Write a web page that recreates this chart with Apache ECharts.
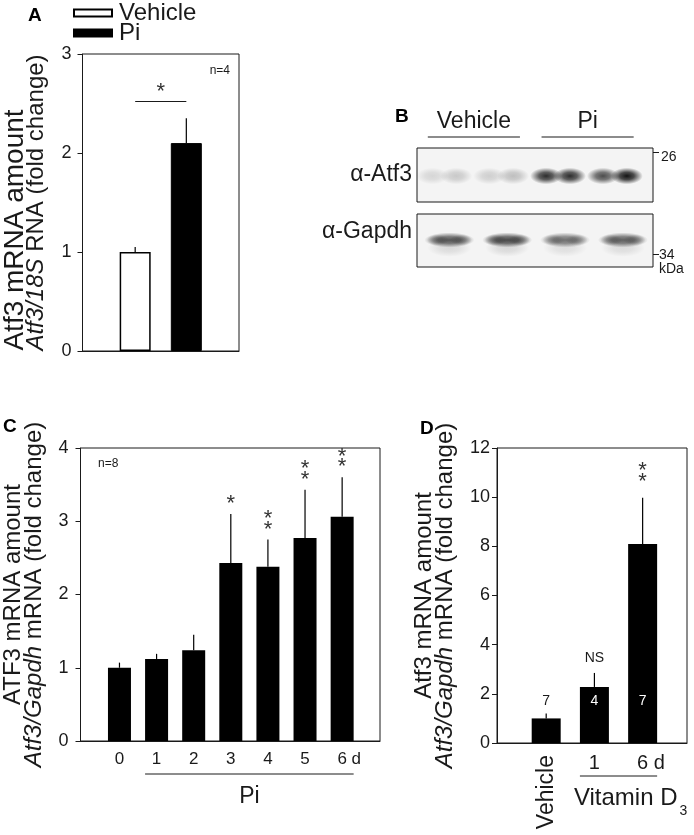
<!DOCTYPE html>
<html><head><meta charset="utf-8">
<script src="https://cdn.jsdelivr.net/npm/echarts@6/dist/echarts.min.js"></script>
<style>html,body{margin:0;padding:0;background:#fff}#c{width:694px;height:835px}</style>
</head><body><div id="c"></div><script>
const F = '"Liberation Sans", Arial, Helvetica, sans-serif';
const INK = '#1a1a1a';

// ---- Panel A data ----
const aGroups = ['Vehicle', 'Pi'];
const aMeans = [1.00, 2.10];
const aUpper = [1.05, 2.35];
const aSigPair = [0, 1];
const aSigLevel = 2.52;
const aSigText = '*';
const aN = 'n=4';

// ---- Panel B data (western blot) ----
const bLanes = [0, 1, 2, 3];
const bLaneGroups = [['Vehicle', 0, 1], ['Pi', 2, 3]];
const bAtf3 = [[0.13, 0.19], [0.16, 0.23], [0.86, 0.86], [0.72, 0.97]];
const bGapdh = [0.80, 0.86, 0.66, 0.74];
const bProbes = ['\u03b1-Atf3', '\u03b1-Gapdh'];
const bMarkers = ['26', '34', 'kDa'];

// ---- Panel C data ----
const cDays = ['0', '1', '2', '3', '4', '5', '6'];
const cMeans = [1.00, 1.12, 1.24, 2.43, 2.38, 2.77, 3.06];
const cUpper = [1.07, 1.19, 1.45, 3.10, 2.75, 3.43, 3.60];
const cSig = ['', '', '', '*', '**', '**', '**'];
const cGroup = ['Pi', 1, 6];
const cN = 'n=8';

// ---- Panel D data ----
const dGroups = ['Vehicle', '1', '6'];
const dMeans = [1.00, 2.28, 8.10];
const dUpper = [1.20, 2.85, 9.98];
const dSig = ['', 'NS', '**'];
const dN = ['7', '4', '7'];
const dGroup = ['Vitamin D', 1, 2];

const N_LABEL_Y = 1.72;

function errSeries(xi, yi, means, upper, sig, gap, step, sigSize) {
  return {
    type: 'custom', xAxisIndex: xi, yAxisIndex: yi, z: 5,
    data: means.map((m, i) => [i, m, upper[i]]),
    renderItem: function (params, api) {
      const p0 = api.coord([api.value(0), api.value(1)]);
      const p1 = api.coord([api.value(0), api.value(2)]);
      const ch = [{ type: 'line', shape: { x1: p0[0], y1: p0[1], x2: p1[0], y2: p1[1] },
        style: { stroke: '#000', lineWidth: 1.2 } }];
      const s = sig[params.dataIndex];
      if (s === 'NS') {
        ch.push({ type: 'text', x: p1[0], y: p1[1] - 15,
          style: { text: 'NS', fill: INK, fontSize: 14, fontFamily: F, align: 'center', verticalAlign: 'middle' } });
      } else if (s) {
        for (let k = 0; k < s.length; k++) {
          ch.push({ type: 'text', x: p1[0], y: p1[1] - gap - k * step + 2,
            style: { text: '*', fill: '#333', fontSize: sigSize, fontFamily: F, align: 'center', verticalAlign: 'middle' } });
        }
      }
      return { type: 'group', children: ch };
    }
  };
}

function bracketSeries(xi, yi, grp, halfBar, rich) {
  return {
    type: 'custom', xAxisIndex: xi, yAxisIndex: yi, z: 5,
    data: [[grp[1], grp[2]]],
    renderItem: function (params, api) {
      const pa = api.coord([api.value(0), 0]);
      const pb = api.coord([api.value(1), 0]);
      const x1 = pa[0] - halfBar, x2 = pb[0] + halfBar, y = pa[1] + 33;
      const ch = [{ type: 'line', shape: { x1: x1, y1: y, x2: x2, y2: y }, style: { stroke: INK, lineWidth: 1 } }];
      if (rich) {
        ch.push({ type: 'text', x: x1 - 6, y: y + 22,
          style: { text: '{a|' + grp[0] + '}{s|3}', align: 'left', verticalAlign: 'middle',
            rich: { a: { fontSize: 24, fontFamily: F, fill: INK, color: INK, lineHeight: 40 },
                    s: { fontSize: 14, fontFamily: F, fill: INK, color: INK, lineHeight: 14, verticalAlign: 'bottom', padding: [0, 0, 0, 2] } } } });
      } else {
        ch.push({ type: 'text', x: (x1 + x2) / 2, y: y + 23,
          style: { text: grp[0], fill: INK, fontSize: 23, fontFamily: F, align: 'center', verticalAlign: 'middle' } });
      }
      return { type: 'group', children: ch };
    }
  };
}

function radial(a) {
  return new echarts.graphic.RadialGradient(0.5, 0.5, 0.5, [
    { offset: 0, color: 'rgba(12,12,12,' + a + ')' },
    { offset: 0.45, color: 'rgba(12,12,12,' + (a * 0.75) + ')' },
    { offset: 1, color: 'rgba(12,12,12,0)' }
  ]);
}

const axisTitleRich = {
  l1: { fontSize: 24, fontFamily: F, color: INK, lineHeight: 21 },
  l1b: { fontSize: 28, fontFamily: F, color: INK, lineHeight: 21, align: 'left' },
  it: { fontSize: 24, fontFamily: F, fontStyle: 'italic', color: INK, lineHeight: 21 },
  itb: { fontSize: 24, fontFamily: F, fontStyle: 'italic', color: INK, lineHeight: 21, align: 'left' },
  l2: { fontSize: 24, fontFamily: F, color: INK, lineHeight: 21 },
  l2b: { fontSize: 24, fontFamily: F, color: INK, lineHeight: 21, align: 'left' }
};

function valueY(grid, max, interval, name, margin, gap) {
  return {
    gridIndex: grid, type: 'value', min: 0, max: max, interval: interval,
    axisLine: { show: true, onZero: false, lineStyle: { color: INK, width: 1 } },
    axisTick: { show: true, inside: false, length: 5, lineStyle: { color: INK } },
    axisLabel: { fontSize: 18, margin: margin, color: INK, fontFamily: F },
    splitLine: { show: false },
    name: name, nameLocation: 'middle', nameRotate: 90, nameGap: gap,
    nameTextStyle: { color: INK, fontFamily: F, rich: axisTitleRich }
  };
}

const hiddenX = (grid, min, max) => ({ gridIndex: grid, type: 'value', min: min, max: max, show: false });

const gridBase = { show: true, borderColor: INK, borderWidth: 1, containLabel: false };

const option = {
  animation: false,
  backgroundColor: '#fff',
  textStyle: { fontFamily: F },
  grid: [
    Object.assign({ left: 80, top: 54, width: 159, height: 297 }, gridBase),
    Object.assign({ left: 417, top: 148, width: 236, height: 54, backgroundColor: '#f4f4f4' }, gridBase),
    Object.assign({ left: 417, top: 214, width: 236, height: 53, backgroundColor: '#f4f4f4' }, gridBase),
    Object.assign({ left: 80, top: 448, width: 300, height: 293 }, gridBase),
    Object.assign({ left: 497, top: 448, width: 190, height: 295 }, gridBase)
  ],
  legend: {
    data: aGroups, orient: 'vertical', left: 73, top: 1, itemGap: -4, padding: 0,
    itemWidth: 38, itemHeight: 7, icon: 'rect',
    textStyle: { fontSize: 24, color: INK, fontFamily: F, lineHeight: 20, padding: [0, 0, 0, 2] }
  },
  xAxis: [
    { gridIndex: 0, type: 'value', min: -1.03, max: 2.03,
      axisLine: { show: true, onZero: false, lineStyle: { color: INK } }, axisTick: { show: false },
      axisLabel: { show: false }, splitLine: { show: false } },
    hiddenX(1, -0.48, 3.67),
    hiddenX(2, -0.56, 3.52),
    { gridIndex: 3, type: 'value', min: -1.05, max: 7.02, position: 'bottom',
      axisLine: { show: true, onZero: false, lineStyle: { color: INK } }, axisTick: { show: false }, splitLine: { show: false },
      axisLabel: { customValues: [0, 1, 2, 3, 4, 5, 6], fontSize: 17, margin: 10, color: INK, fontFamily: F,
        formatter: v => v === cDays.length - 1 ? '{h| d}' + cDays[v] + ' d' : cDays[v],
        rich: { h: { color: 'transparent', fontSize: 17, fontFamily: F } } } },
    { gridIndex: 4, type: 'value', min: -1.02, max: 2.92, position: 'bottom',
      axisLine: { show: true, onZero: false, lineStyle: { color: INK } }, axisTick: { show: false }, splitLine: { show: false },
      axisLabel: { customValues: [1, 2], fontSize: 20, margin: 10, color: INK, fontFamily: F,
        formatter: v => v === dGroups.length - 1 ? '{h| d}' + dGroups[v] + ' d' : dGroups[v],
        rich: { h: { color: 'transparent', fontSize: 20, fontFamily: F } } } }
  ],
  yAxis: [
    valueY(0, 3, 1, '{l1b|Atf3 mRNA amount}\n{itb|Atf3/18S}{l2b| RNA (fold change)}', 11, 36),
    { gridIndex: 1, type: 'value', min: 0, max: 1, axisLine: { show: false, onZero: false }, axisTick: { show: false }, splitLine: { show: false },
      axisLabel: { customValues: [0.5], formatter: () => bProbes[0], fontSize: 23, margin: 5, color: INK, fontFamily: F } },
    { gridIndex: 1, type: 'value', position: 'right', min: 0, max: 1, axisLine: { show: false, onZero: false }, splitLine: { show: false },
      axisTick: { show: true, customValues: [0.93], length: 6, lineStyle: { color: INK } },
      axisLabel: { customValues: [0.83], formatter: () => bMarkers[0], fontSize: 14, margin: 8, color: INK, fontFamily: F } },
    { gridIndex: 2, type: 'value', min: 0, max: 1, axisLine: { show: false, onZero: false }, axisTick: { show: false }, splitLine: { show: false },
      axisLabel: { customValues: [0.66], formatter: () => bProbes[1], fontSize: 23, margin: 5, color: INK, fontFamily: F } },
    { gridIndex: 2, type: 'value', position: 'right', min: 0, max: 1, axisLine: { show: false, onZero: false }, splitLine: { show: false },
      axisTick: { show: true, customValues: [0.245], length: 6, lineStyle: { color: INK } },
      axisLabel: { customValues: [0.094], formatter: () => bMarkers[1] + '\n' + bMarkers[2], fontSize: 14, lineHeight: 14,
        margin: 6, color: INK, fontFamily: F } },
    valueY(3, 4, 1, '{l1|ATF3 mRNA amount}\n{it|Atf3/Gapdh}{l2| mRNA (fold change)}', 12, 36),
    valueY(4, 12, 2, '{l1|Atf3 mRNA amount}\n{it|Atf3/Gapdh}{l2| mRNA (fold change)}', 7, 41)
  ],
  series: [
    // Panel A
    { name: aGroups[0], type: 'bar', xAxisIndex: 0, yAxisIndex: 0, barWidth: 31, barGap: '-100%',
      data: [[0, aMeans[0]]], itemStyle: { color: '#fff', borderColor: '#000', borderWidth: 1.5 } },
    { name: aGroups[1], type: 'bar', xAxisIndex: 0, yAxisIndex: 0, barWidth: 31, barGap: '-100%',
      data: [[1, aMeans[1]]], itemStyle: { color: '#000', borderColor: '#000', borderWidth: 1 } },
    errSeries(0, 0, aMeans, aUpper, ['', ''], 14, 10.5, 22),
    { type: 'custom', xAxisIndex: 0, yAxisIndex: 0, z: 5, data: [[aSigPair[0], aSigPair[1], aSigLevel]],
      renderItem: function (params, api) {
        const p0 = api.coord([api.value(0), api.value(2)]);
        const p1 = api.coord([api.value(1), api.value(2)]);
        return { type: 'group', children: [
          { type: 'line', shape: { x1: p0[0], y1: p0[1], x2: p1[0], y2: p1[1] }, style: { stroke: INK, lineWidth: 1.2 } },
          { type: 'text', x: (p0[0] + p1[0]) / 2, y: p0[1] - 12 + 2,
            style: { text: aSigText, fill: '#333', fontSize: 22, fontFamily: F, align: 'center', verticalAlign: 'middle' } }
        ] };
      } },
    // Panel B: Atf3 blot
    { type: 'custom', xAxisIndex: 1, yAxisIndex: 1, data: bLanes.map((l, i) => [l, bAtf3[i][0], bAtf3[i][1]]),
      renderItem: function (params, api) {
        const c = api.coord([api.value(0), 0.5]);
        const sp = api.size([1, 0])[0];
        const lobes = [[c[0] - 0.21 * sp, api.value(1)], [c[0] + 0.21 * sp, api.value(2)]];
        return { type: 'group', children: lobes.map(lb => ({
          type: 'circle', x: lb[0], y: c[1] + 1, scaleY: 0.52, shape: { cx: 0, cy: 0, r: 16 },
          style: { fill: radial(lb[1]) } })) };
      } },
    // Panel B: Gapdh blot
    { type: 'custom', xAxisIndex: 2, yAxisIndex: 3, data: bLanes.map((l, i) => [l, bGapdh[i]]),
      renderItem: function (params, api) {
        const c = api.coord([api.value(0), 0.51]);
        const sp = api.size([1, 0])[0];
        const a = api.value(1);
        return { type: 'group', children: [
          { type: 'circle', x: c[0], y: c[1] + 8, scaleY: 0.4, shape: { cx: 0, cy: 0, r: 22 }, style: { fill: radial(a * 0.14) } },
          { type: 'circle', x: c[0], y: c[1], scaleY: 0.3, shape: { cx: 0, cy: 0, r: 25 }, style: { fill: radial(a * 0.85) } },
          { type: 'circle', x: c[0] - 0.2 * sp, y: c[1], scaleY: 0.5, shape: { cx: 0, cy: 0, r: 11 }, style: { fill: radial(a * 0.4) } },
          { type: 'circle', x: c[0] + 0.2 * sp, y: c[1], scaleY: 0.5, shape: { cx: 0, cy: 0, r: 11 }, style: { fill: radial(a * 0.4) } }
        ] };
      } },
    // Panel B: group headers
    { type: 'custom', xAxisIndex: 1, yAxisIndex: 1, data: bLaneGroups.map(g => [g[1], g[2]]),
      renderItem: function (params, api) {
        const p0 = api.coord([api.value(0), 1]);
        const p1 = api.coord([api.value(1), 1]);
        const sp = api.size([1, 0])[0];
        const x1 = p0[0] - 0.29 * sp, x2 = p1[0] + 0.33 * sp, y = p0[1] - 11;
        return { type: 'group', children: [
          { type: 'line', shape: { x1: x1, y1: y, x2: x2, y2: y }, style: { stroke: INK, lineWidth: 1.2 } },
          { type: 'text', x: (x1 + x2) / 2, y: y - 15,
            style: { text: bLaneGroups[params.dataIndex][0], fill: INK, fontSize: 23, fontFamily: F, align: 'center', verticalAlign: 'middle' } }
        ] };
      } },
    // Panel C
    { type: 'bar', xAxisIndex: 3, yAxisIndex: 5, barWidth: 23, data: cMeans.map((v, i) => [i, v]),
      itemStyle: { color: '#000' } },
    errSeries(3, 5, cMeans, cUpper, cSig, 12, 10.5, 22),
    bracketSeries(3, 5, cGroup, 11.5, false),
    // Panel D
    { type: 'bar', xAxisIndex: 4, yAxisIndex: 6, barWidth: 29, data: dMeans.map((v, i) => [i, v]),
      itemStyle: { color: '#000' } },
    errSeries(4, 6, dMeans, dUpper, dSig, 18, 10.5, 22),
    { type: 'custom', xAxisIndex: 4, yAxisIndex: 6, z: 6, data: dN.map((n, i) => [i, N_LABEL_Y]),
      renderItem: function (params, api) {
        const p = api.coord([api.value(0), api.value(1)]);
        const inside = dMeans[params.dataIndex] > N_LABEL_Y + 0.3;
        return { type: 'text', x: p[0], y: p[1],
          style: { text: dN[params.dataIndex], fill: inside ? '#fff' : INK, fontSize: 14, fontFamily: F, align: 'center', verticalAlign: 'middle' } };
      } },
    // Panel D: rotated "Vehicle" category label
    { type: 'custom', xAxisIndex: 4, yAxisIndex: 6, z: 6, data: [[0, 0]],
      renderItem: function (params, api) {
        const p = api.coord([api.value(0), api.value(1)]);
        return { type: 'text', x: p[0], y: p[1] + 12, rotation: Math.PI / 2,
          style: { text: dGroups[0], fill: INK, fontSize: 23, fontFamily: F, align: 'right', verticalAlign: 'middle' } };
      } },
    bracketSeries(4, 6, dGroup, 14.5, true)
  ],
  graphic: [
    { type: 'text', x: 28, y: 16, style: { text: 'A', font: 'bold 19px ' + F, fill: '#000', verticalAlign: 'middle' } },
    { type: 'text', x: 395, y: 117, style: { text: 'B', font: 'bold 19px ' + F, fill: '#000', verticalAlign: 'middle' } },
    { type: 'text', x: 3, y: 427, style: { text: 'C', font: 'bold 19px ' + F, fill: '#000', verticalAlign: 'middle' } },
    { type: 'text', x: 420, y: 429, style: { text: 'D', font: 'bold 19px ' + F, fill: '#000', verticalAlign: 'middle' } },
    { type: 'text', x: 230, y: 71, style: { text: aN, font: '12px ' + F, fill: INK, align: 'right', verticalAlign: 'middle' } },
    { type: 'text', x: 98, y: 464, style: { text: cN, font: '12px ' + F, fill: INK, align: 'left', verticalAlign: 'middle' } }
  ]
};

const chart = echarts.init(document.getElementById('c'), null, { renderer: 'canvas' });
chart.setOption(option);
</script></body></html>
